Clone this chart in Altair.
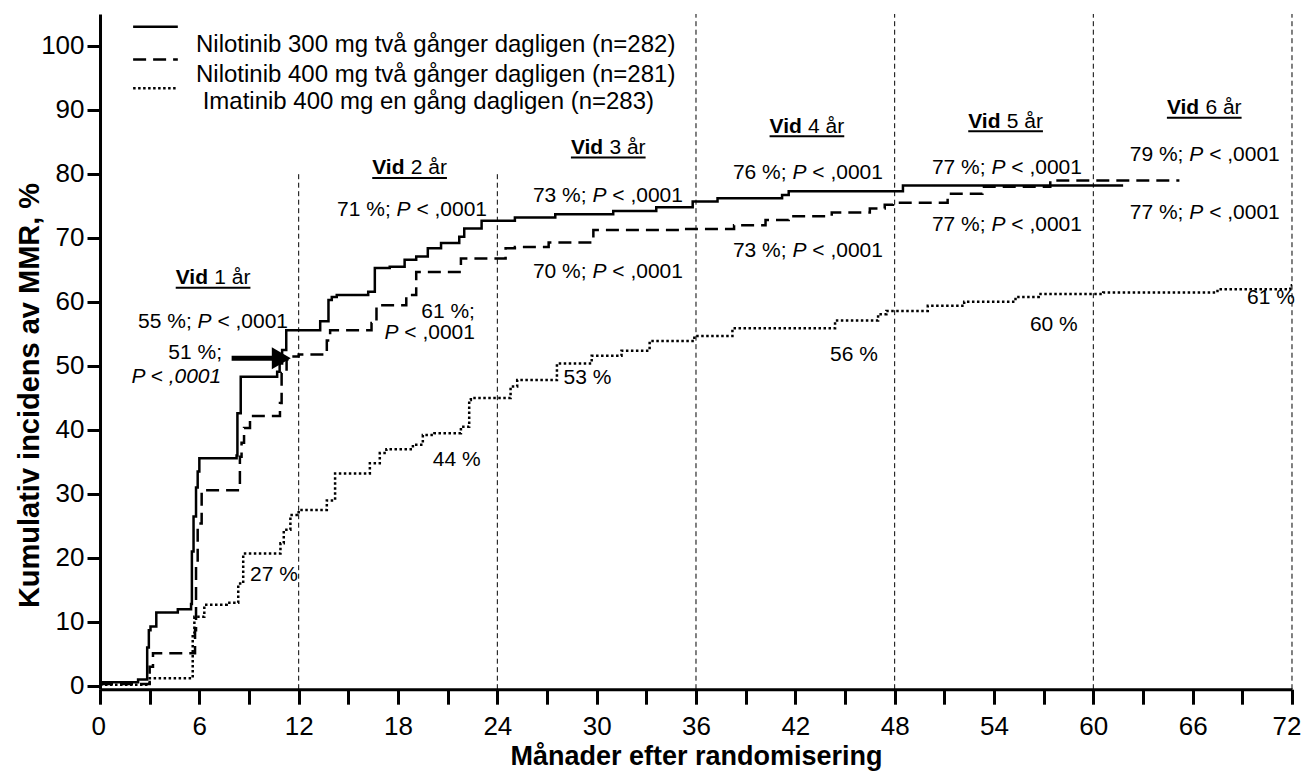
import altair as alt
import pandas as pd

# ---------------- data ----------------
SERIES = ["Nilotinib 300 mg två gånger dagligen (n=282)",
          "Nilotinib 400 mg två gånger dagligen (n=281)",
          "Imatinib 400 mg en gång dagligen (n=283)"]

n300_t = [0, 2.3, 2.85, 2.95, 3.05, 3.4, 4.7, 5.5, 5.55, 5.65, 5.8, 5.9, 6.0, 8.25, 8.3, 8.5,
          10.7, 10.85, 11.0, 11.25, 13.3, 13.8, 14.0, 14.3, 16.2, 16.6, 17.5, 18.4, 19.1, 19.8,
          20.6, 21.7, 22.0, 23.05, 25.06, 27.5, 31.0, 33.6, 35.8, 37.3, 41.2, 41.6, 48.5, 61.8]
n300_v = [0.6, 1.0, 6.0, 8.7, 9.3, 11.5, 12.0, 12.8, 21.0, 26.5, 31.0, 33.5, 35.6, 36.0, 42.6, 48.3,
          49.1, 50.4, 52.5, 55.6, 57.0, 60.3, 60.8, 61.1, 61.6, 65.3, 65.5, 66.6, 67.1, 68.4,
          69.2, 70.2, 71.5, 72.7, 73.2, 73.7, 74.2, 74.8, 75.7, 76.2, 76.7, 77.3, 78.2, 78.2]

n400_t = [0, 3.0, 3.2, 5.74, 5.8, 5.9, 6.14, 8.45, 8.55, 8.7, 9.06, 10.87, 10.97, 11.27, 11.6, 12.0,
          13.7, 13.9, 16.4, 16.7, 18.5, 19.1, 21.8, 24.5, 25.06, 27.1, 29.8, 35.2, 38.3, 40.2,
          41.6, 44.2, 46.5, 47.4, 47.9, 51.2, 53.3, 57.4, 65.2]
n400_v = [0.3, 3.0, 5.1, 8.7, 19.2, 25.4, 30.6, 35.8, 38.0, 40.3, 42.2, 44.2, 48.9, 51.0, 51.5, 51.8,
          54.0, 55.6, 56.7, 59.5, 61.1, 64.7, 66.8, 68.4, 68.6, 69.3, 71.25, 71.4, 72.0, 72.8,
          73.4, 74.0, 74.6, 75.2, 75.5, 76.9, 78.0, 79.0, 79.0]

ima_t = [0, 3.0, 5.6, 5.7, 6.3, 7.65, 8.35, 8.65, 10.9, 11.1, 11.5, 12.0, 13.7, 14.2, 16.3, 16.9,
         17.3, 18.9, 19.5, 20.2, 21.8, 22.3, 22.4, 24.8, 25.2, 27.6, 29.7, 31.5, 33.2, 35.9,
         38.2, 44.4, 47.0, 47.5, 50.0, 52.2, 55.3, 56.7, 60.6, 67.5, 71.9, 72.0]
ima_v = [0.2, 1.2, 8.2, 10.8, 12.7, 13.0, 16.0, 20.7, 22.3, 24.4, 26.7, 27.5, 29.0, 33.2, 34.8, 36.4,
         37.0, 37.7, 39.2, 39.5, 40.5, 44.7, 45.0, 46.8, 47.8, 50.4, 51.6, 52.4, 53.9, 54.7,
         55.9, 57.1, 58.1, 58.6, 59.4, 60.05, 60.8, 61.25, 61.5, 62.0, 62.6, 62.6]

x_tick_values = list(range(0, 73, 3))
y_tick_values = list(range(0, 101, 10))

ref_months = [12, 24, 36, 48, 60, 72]
ref_tops = [80.3, 80.3, 105, 105, 105, 105]

# legend (drawn inside the plot, in data units)
leg_line_x0 = [2.0, 2.0, 2.0]
leg_line_x1 = [4.7, 4.7, 4.7]
leg_line_y = [103.0, 97.9, 93.4]
leg_text_x = [5.8, 5.8, 6.2]
leg_text_y = [100.2, 95.4, 91.3]

# "NN %; P < ,0001" annotations
p_labels = ["55 %", "71 %", "73 %", "70 %", "76 %", "73 %", "77 %", "77 %", "79 %", "77 %"]
p_anchor_x = [11.36, 23.38, 26.15, 26.15, 38.23, 38.23, 50.25, 50.25, 62.2, 62.2]
p_anchor_y = [56.9, 74.4, 76.6, 64.7, 80.2, 67.9, 80.9, 72.0, 83.0, 73.9]
p_align = ["right", "right", "left", "left", "left", "left", "left", "left", "left", "left"]

# two-line annotations (right aligned)
two_labels = ["51 %;", "61 %;"]
two_right_x = [7.37, 22.65]
two_y1 = [52.0, 58.5]
two_y2 = [48.3, 55.1]
two_all_italic = [True, False]

# plain percentages (left aligned)
pct_labels = ["27 %", "44 %", "53 %", "56 %", "60 %", "61 %"]
pct_x = [9.06, 20.1, 28.0, 44.1, 56.17, 69.28]
pct_y = [17.3, 35.3, 48.1, 51.7, 56.4, 60.6]

# headings "Vid N år" (centered)
head_years = [1, 2, 3, 4, 5, 6]
head_x = [6.83, 18.7, 30.7, 42.7, 54.7, 66.7]
head_y = [63.75, 80.9, 84.1, 87.4, 88.2, 90.3]

# arrow
arrow_x0, arrow_tip, arrow_y = 7.95, 11.65, 51.2

# ---------------- layout helpers ----------------
W, H = 1192, 675.2
XDOM = [0, 72]
YDOM = [-0.5, 105]
PXM = W / (XDOM[1] - XDOM[0])
PXP = H / (YDOM[1] - YDOM[0])
FONT = "Liberation Sans"
ANN = 21
LEG = 24

AW = {' ': 278, '%': 889, ';': 278, ',': 278, '<': 584, 'P': 667, 'V': 667, 'i': 222,
      'd': 556, 'å': 556, 'r': 333}
for _d in "0123456789":
    AW[_d] = 556
BW = {'V': 667, 'i': 278, 'd': 611}


def tw(s, size, bold=False):
    tot = 0
    for c in s:
        if bold and c in BW:
            tot += BW[c]
        else:
            tot += AW.get(c, 556)
    return tot * size / 1000.0


pieces = []


def seg_width(segs, size):
    return sum(tw(t, size, st == 'bold') for t, st in segs)


def place(x_left, y, segs, size):
    off = 0.0
    for txt, st in segs:
        stripped = txt.strip()
        lead = len(txt) - len(txt.lstrip(' '))
        lead_w = tw(' ' * lead, size)
        pieces.append(dict(x=x_left + (off + lead_w) / PXM, y=y, text=stripped, style=st))
        off += tw(txt, size, st == 'bold')
    return off


for lab, ax, ay, al in zip(p_labels, p_anchor_x, p_anchor_y, p_align):
    segs = [(lab + "; ", 'normal'), ("P", 'italic'), (" < ,0001", 'normal')]
    w = seg_width(segs, ANN)
    xl = ax - w / PXM if al == "right" else ax
    place(xl, ay, segs, ANN)

for lab, rx, y1, y2, allit in zip(two_labels, two_right_x, two_y1, two_y2, two_all_italic):
    s1 = [(lab, 'normal')]
    place(rx - seg_width(s1, ANN) / PXM, y1, s1, ANN)
    s2 = [("P < ,0001", 'italic')] if allit else [("P", 'italic'), (" < ,0001", 'normal')]
    place(rx - seg_width(s2, ANN) / PXM, y2, s2, ANN)

for lab, px, py in zip(pct_labels, pct_x, pct_y):
    place(px, py, [(lab, 'normal')], ANN)

ul_rows = []
for yr, hx, hy in zip(head_years, head_x, head_y):
    segs = [("Vid", 'bold'), (f" {yr} år", 'normal')]
    w = seg_width(segs, ANN)
    xl = hx - w / PXM / 2
    place(xl, hy, segs, ANN)
    ul_rows.append(dict(x=xl, x2=xl + w / PXM, y=hy - 9.7 / PXP))

df_pieces = pd.DataFrame(pieces)
df_ul = pd.DataFrame(ul_rows)

rows = []
for name, ts, vs in zip(SERIES, [n300_t, n400_t, ima_t], [n300_v, n400_v, ima_v]):
    for t, v in zip(ts, vs):
        rows.append(dict(series=name, x=t, y=v))
df_lines = pd.DataFrame(rows)

df_leg_line = pd.DataFrame(dict(series=SERIES, x=leg_line_x0, x2=leg_line_x1, y=leg_line_y))
df_leg_text = pd.DataFrame(dict(series=SERIES, x=leg_text_x, y=leg_text_y))

df_ref = pd.DataFrame(dict(x=ref_months, y=[YDOM[0]] * len(ref_months), y2=ref_tops))
df_arrow = pd.DataFrame(dict(x=[arrow_x0], x2=[arrow_tip - 0.9], y=[arrow_y]))
df_head = pd.DataFrame(dict(x=[arrow_tip - 0.7], y=[arrow_y]))

# ---------------- encodings ----------------
X = alt.X('x:Q', scale=alt.Scale(domain=XDOM, nice=False, zero=False),
          axis=alt.Axis(values=x_tick_values,
                        labelExpr="datum.value % 6 == 0 ? datum.label : ''",
                        title="Månader efter randomisering",
                        titleFontSize=27, titleFontWeight='bold', titleFont=FONT,
                        titleColor='black', titleY=75, titleBaseline='alphabetic',
                        labelFontSize=26, labelFont=FONT, labelColor='black',
                        labelPadding=9, tickSize=15, tickWidth=3, tickColor='black',
                        domainWidth=3, domainColor='black', grid=False,
                        labelFlush=True, labelFlushOffset=9))
Y = alt.Y('y:Q', scale=alt.Scale(domain=YDOM, nice=False, zero=False),
          axis=alt.Axis(values=y_tick_values,
                        title="Kumulativ incidens av MMR, %",
                        titleFontSize=29, titleFontWeight='bold', titleFont=FONT,
                        titleColor='black', titleAngle=270, titleX=-62, titleY=381,
                        titleAlign='center', titleBaseline='alphabetic',
                        labelFontSize=26, labelFont=FONT, labelColor='black',
                        labelPadding=3, tickSize=13, tickWidth=3, tickColor='black',
                        domainWidth=3, domainColor='black', grid=False, labelFlush=False))

DASH = alt.StrokeDash('series:N',
                      scale=alt.Scale(domain=SERIES, range=[[1, 0], [13, 7], [2.5, 2.5]]),
                      legend=None)

lines = alt.Chart(df_lines).mark_line(interpolate='step-after', strokeWidth=2.5,
                                      color='black').encode(x=X, y=Y, strokeDash=DASH)

leg_lines = alt.Chart(df_leg_line).mark_rule(strokeWidth=2.5, color='black').encode(
    x=X, x2='x2:Q', y=Y, strokeDash=DASH)
leg_texts = alt.Chart(df_leg_text).mark_text(align='left', baseline='middle', font=FONT,
                                             fontSize=LEG, color='black').encode(
    x=X, y=Y, text='series:N')

refs = alt.Chart(df_ref).mark_rule(strokeDash=[5, 3.5], strokeWidth=1, color='black').encode(
    x=X, y=Y, y2='y2:Q')

arrow = alt.Chart(df_arrow).mark_rule(strokeWidth=5, color='black').encode(
    x=X, x2='x2:Q', y=Y)
arrowhead = alt.Chart(df_head).mark_point(shape='triangle-right', filled=True, size=480,
                                          color='black', opacity=1).encode(x=X, y=Y)

underline = alt.Chart(df_ul).mark_rule(strokeWidth=2, color='black').encode(
    x=X, x2='x2:Q', y=Y)


def text_layer(style, **kw):
    return alt.Chart(df_pieces).transform_filter(
        alt.datum.style == style
    ).mark_text(align='left', baseline='middle', font=FONT, fontSize=ANN,
                color='black', **kw).encode(x=X, y=Y, text='text:N')


t_norm = text_layer('normal')
t_ital = text_layer('italic', fontStyle='italic')
t_bold = text_layer('bold', fontWeight='bold')

chart = alt.layer(refs, lines, leg_lines, leg_texts, arrow, arrowhead, underline,
                  t_norm, t_ital, t_bold).properties(
    width=W, height=H,
    autosize=alt.AutoSizeParams(type='none'),
    padding={"left": 92, "top": 6, "right": 9, "bottom": 84},
    background='white'
).configure_view(strokeWidth=0)

chart.save("out.html", embed_options={"renderer": "svg", "actions": False})
